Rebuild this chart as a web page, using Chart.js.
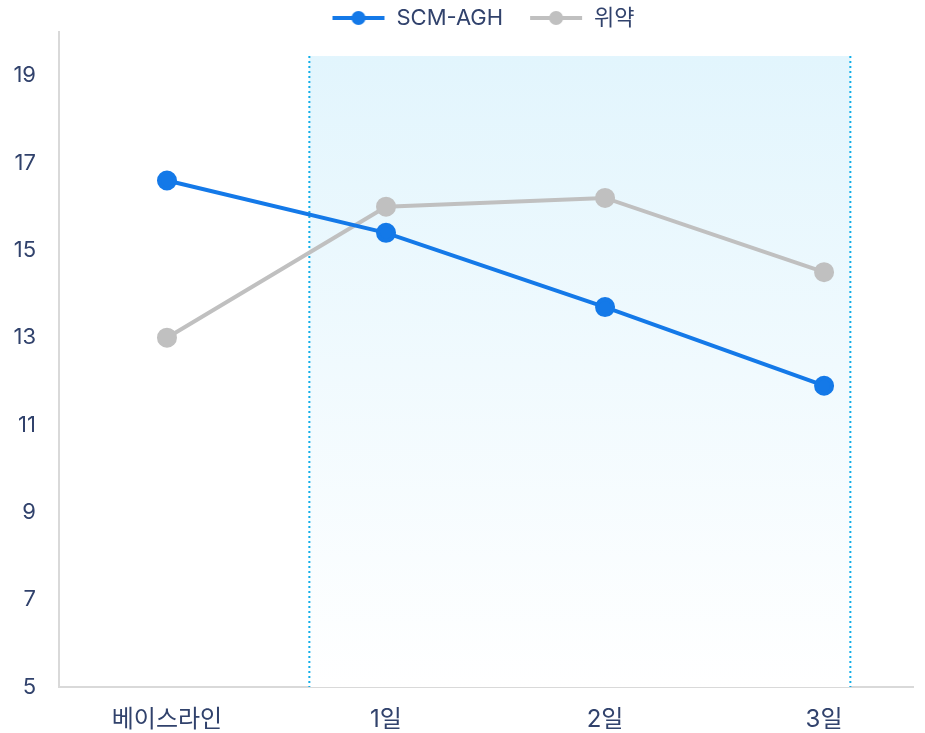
<!DOCTYPE html>
<html>
<head>
<meta charset="utf-8">
<script src="https://cdn.jsdelivr.net/npm/chart.js@4"></script>
<style>
  html, body { margin: 0; padding: 0; background: #ffffff; overflow: hidden; }
  #wrap { width: 925px; height: 733px; position: relative; }
  #chart { display: block; }
</style>
</head>
<body>
<div id="wrap"><canvas id="chart"></canvas></div>
<script>
const categories = ["베이스라인", "1일", "2일", "3일"];
const scmValues = [16.6, 15.4, 13.7, 11.9];
const placeboValues = [13.0, 16.0, 16.2, 14.5];
const yTicks = [5, 7, 9, 11, 13, 15, 17, 19];
// shaded treatment period (in x / y value units)
const bandStart = 0.65;
const bandEnd = 3.12;
const bandTop = 19.45;

const textColor = "#31426c";
const fontFamily = "Inter, 'Noto Sans CJK KR', sans-serif";

function legendIcon(color) {
  const c = document.createElement("canvas");
  c.width = 54;
  c.height = 16;
  const g = c.getContext("2d");
  g.strokeStyle = color;
  g.lineWidth = 4;
  g.beginPath();
  g.moveTo(1, 8);
  g.lineTo(53, 8);
  g.stroke();
  g.fillStyle = color;
  g.beginPath();
  g.arc(27, 8, 7, 0, Math.PI * 2);
  g.fill();
  return c;
}

const bandPlugin = {
  id: "band",
  beforeInit(chart) {
    // keep the legend box short so the plot starts right under it
    const fit = chart.legend.fit;
    chart.legend.fit = function () {
      fit.call(this);
      this.height = 51;
    };
    // legend sits a bit right of the canvas centre
    const draw = chart.legend.draw;
    chart.legend.draw = function () {
      this.ctx.save();
      this.ctx.translate(22, 0);
      draw.call(this);
      this.ctx.restore();
    };
  },
  beforeDatasetsDraw(chart) {
    const { ctx, scales: { x, y }, chartArea } = chart;
    const left = x.getPixelForValue(bandStart);
    const right = x.getPixelForValue(bandEnd);
    const top = y.getPixelForValue(bandTop);
    const bottom = chartArea.bottom;
    ctx.save();
    const grad = ctx.createLinearGradient(0, top, 0, bottom);
    grad.addColorStop(0, "#e2f5fd");
    grad.addColorStop(1, "#ffffff");
    ctx.fillStyle = grad;
    ctx.fillRect(left, top, right - left, bottom - top);
    ctx.strokeStyle = "#10aee8";
    ctx.lineWidth = 2;
    ctx.setLineDash([2, 3]);
    ctx.beginPath();
    ctx.moveTo(left, top);
    ctx.lineTo(left, bottom);
    ctx.moveTo(right, top);
    ctx.lineTo(right, bottom);
    ctx.stroke();
    ctx.restore();
  }
};

const ctx = document.getElementById("chart");
new Chart(ctx, {
  type: "line",
  data: {
    datasets: [
      {
        label: "SCM-AGH",
        data: scmValues.map((v, i) => ({ x: i, y: v })),
        borderColor: "#1479e8",
        backgroundColor: "#1479e8",
        borderWidth: 4,
        pointRadius: 8,
        pointHoverRadius: 8
      },
      {
        label: "위약",
        data: placeboValues.map((v, i) => ({ x: i, y: v })),
        borderColor: "#c0c0c0",
        backgroundColor: "#c0c0c0",
        borderWidth: 4,
        pointRadius: 8,
        pointHoverRadius: 8
      }
    ]
  },
  options: {
    responsive: true,
    maintainAspectRatio: false,
    animation: false,
    layout: { padding: { top: -19, right: 3, left: 0, bottom: 0 } },
    plugins: {
      tooltip: { enabled: false },
      legend: {
        position: "top",
        labels: {
          usePointStyle: true,
          pointStyleWidth: 54,
          padding: 26,
          color: textColor,
          font: { family: fontFamily, size: 22 },
          generateLabels(chart) {
            return chart.data.datasets.map((ds, i) => ({
              text: ds.label,
              datasetIndex: i,
              fontColor: textColor,
              pointStyle: legendIcon(ds.borderColor),
              lineWidth: 0,
              strokeStyle: "transparent",
              fillStyle: ds.borderColor
            }));
          }
        }
      }
    },
    scales: {
      x: {
        type: "linear",
        min: -0.493,
        max: 3.406,
        grid: { display: false, drawTicks: false },
        border: { display: true, color: "#d9d9d9", width: 2 },
        afterBuildTicks(scale) {
          scale.ticks = categories.map((c, i) => ({ value: i }));
        },
        afterFit(scale) {
          scale.height = 46;
        },
        ticks: {
          padding: 18,
          color: textColor,
          font: { family: fontFamily, size: 24 },
          callback: (v) => categories[v]
        }
      },
      y: {
        min: 5,
        max: 20,
        grid: { display: false, drawTicks: false },
        border: { display: true, color: "#d9d9d9", width: 2 },
        afterBuildTicks(scale) {
          scale.ticks = yTicks.map(v => ({ value: v }));
        },
        afterFit(scale) {
          scale.width = 59;
          scale.paddingTop = 0;
          scale.paddingBottom = 0;
        },
        ticks: {
          padding: 23,
          color: textColor,
          font: { family: fontFamily, size: 22 }
        }
      }
    }
  },
  plugins: [bandPlugin]
});
</script>
</body>
</html>
